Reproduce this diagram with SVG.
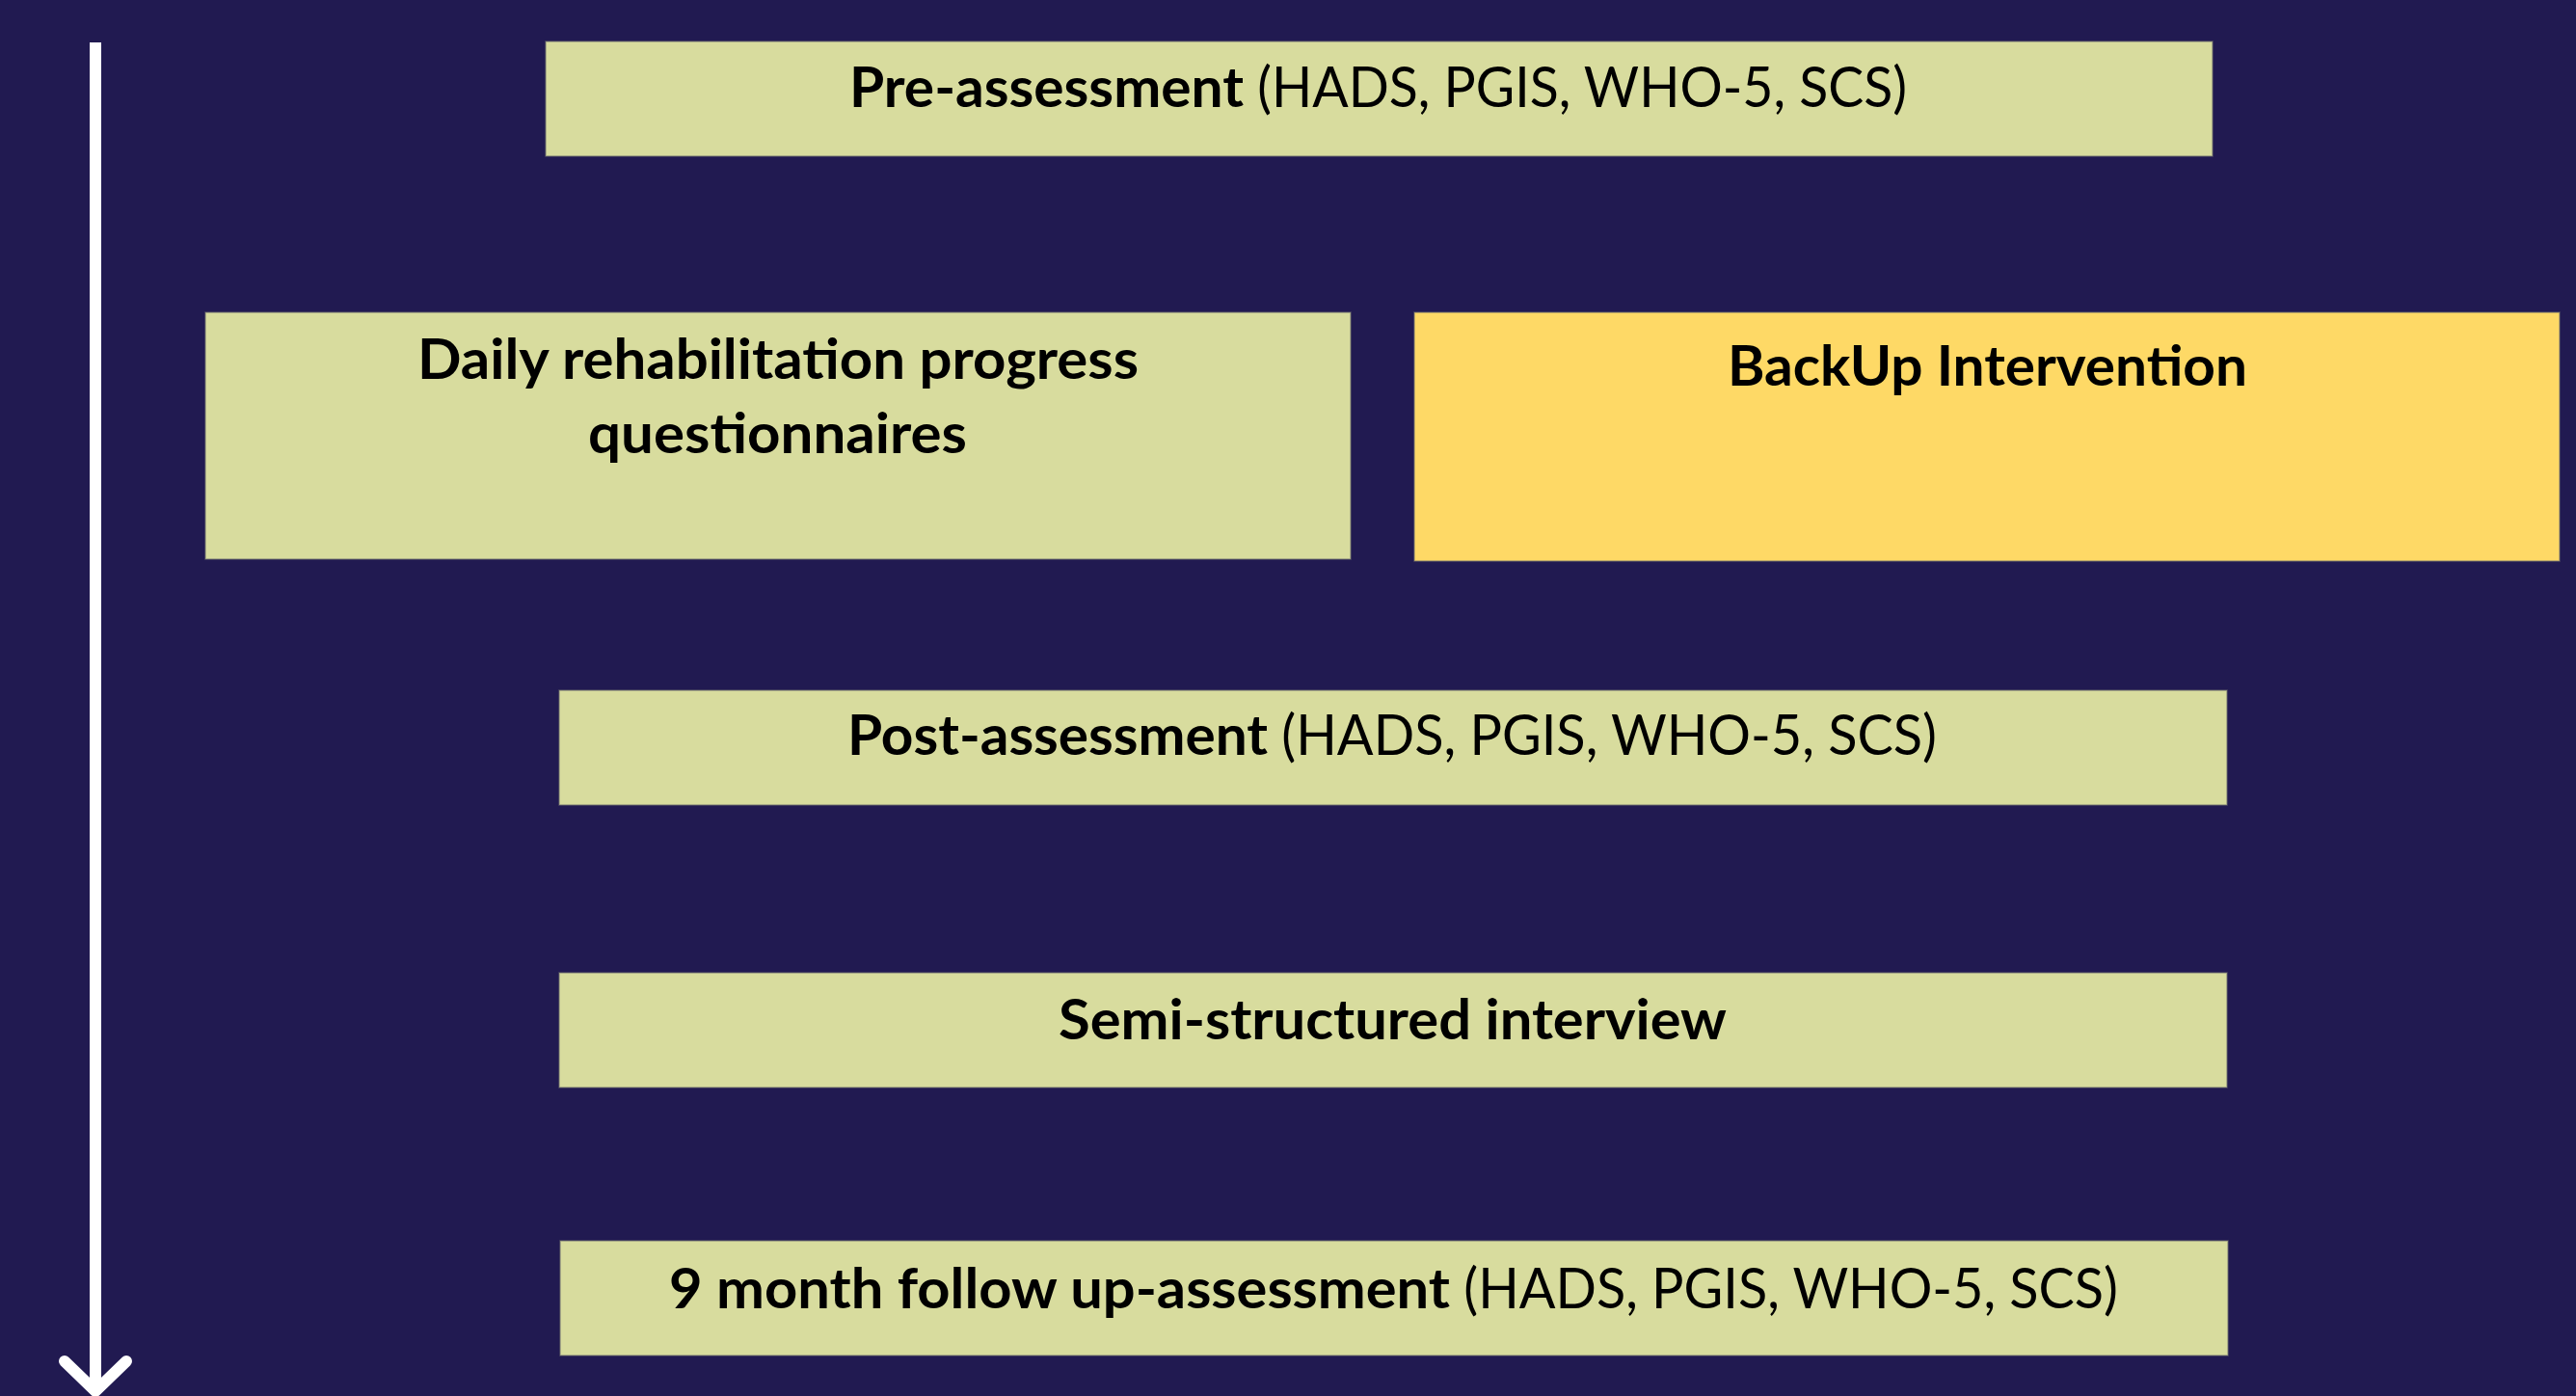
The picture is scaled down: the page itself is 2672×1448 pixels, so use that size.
<svg xmlns="http://www.w3.org/2000/svg" width="2672" height="1448" viewBox="0 0 2672 1448">
  <style>
    .box { fill: #D8DC9E; stroke: #6e6e6e; stroke-opacity: 0.6; stroke-width: 1.5; }
    .box.hl { fill: #FED966; }
    .lbl { font-family: Lato, "Open Sans", "Liberation Sans", sans-serif; font-size: 58px; fill: #000; }
    .b { font-weight: 700; }
    .r { font-weight: 400; }
    .timeline { fill: none; stroke: #FFFFFF; stroke-width: 12; stroke-linecap: round; stroke-linejoin: round; }
  </style>
  <rect x="0" y="0" width="2672" height="1448" fill="#211A51"/>

  <g id="connectors">
    <line class="timeline" x1="99" y1="44" x2="99" y2="1443" style="stroke-linecap:butt"/>
    <polyline class="timeline" points="67,1412 99,1443 131,1412"/>
  </g>

  <g id="pre-assessment">
    <rect class="box" x="566" y="43" width="1729" height="119"/>
    <text class="lbl" y="111"><tspan class="b" x="881" textLength="409" lengthAdjust="spacingAndGlyphs">Pre-assessment</tspan><tspan class="r" x="1290" textLength="688" lengthAdjust="spacingAndGlyphs"> (HADS, PGIS, WHO-5, SCS)</tspan></text>
  </g>

  <g id="daily-questionnaires">
    <rect class="box" x="213" y="324" width="1188" height="256"/>
    <text class="lbl b" x="433" y="393" textLength="748" lengthAdjust="spacingAndGlyphs">Daily rehabilitation progress</text>
    <text class="lbl b" x="610" y="470" textLength="393" lengthAdjust="spacingAndGlyphs">questionnaires</text>
  </g>

  <g id="backup-intervention">
    <rect class="box hl" x="1467" y="324" width="1188" height="258"/>
    <text class="lbl b" x="1792" y="400" textLength="539" lengthAdjust="spacingAndGlyphs">BackUp Intervention</text>
  </g>

  <g id="post-assessment">
    <rect class="box" x="580" y="716" width="1730" height="119"/>
    <text class="lbl" y="783"><tspan class="b" x="879" textLength="436" lengthAdjust="spacingAndGlyphs">Post-assessment</tspan><tspan class="r" x="1315" textLength="694" lengthAdjust="spacingAndGlyphs"> (HADS, PGIS, WHO-5, SCS)</tspan></text>
  </g>

  <g id="interview">
    <rect class="box" x="580" y="1009" width="1730" height="119"/>
    <text class="lbl b" x="1098" y="1078" textLength="693" lengthAdjust="spacingAndGlyphs">Semi-structured interview</text>
  </g>

  <g id="follow-up">
    <rect class="box" x="581" y="1287" width="1730" height="119"/>
    <text class="lbl" y="1357"><tspan class="b" x="694" textLength="810" lengthAdjust="spacingAndGlyphs">9 month follow up-assessment</tspan><tspan class="r" x="1504" textLength="693" lengthAdjust="spacingAndGlyphs"> (HADS, PGIS, WHO-5, SCS)</tspan></text>
  </g>
</svg>
